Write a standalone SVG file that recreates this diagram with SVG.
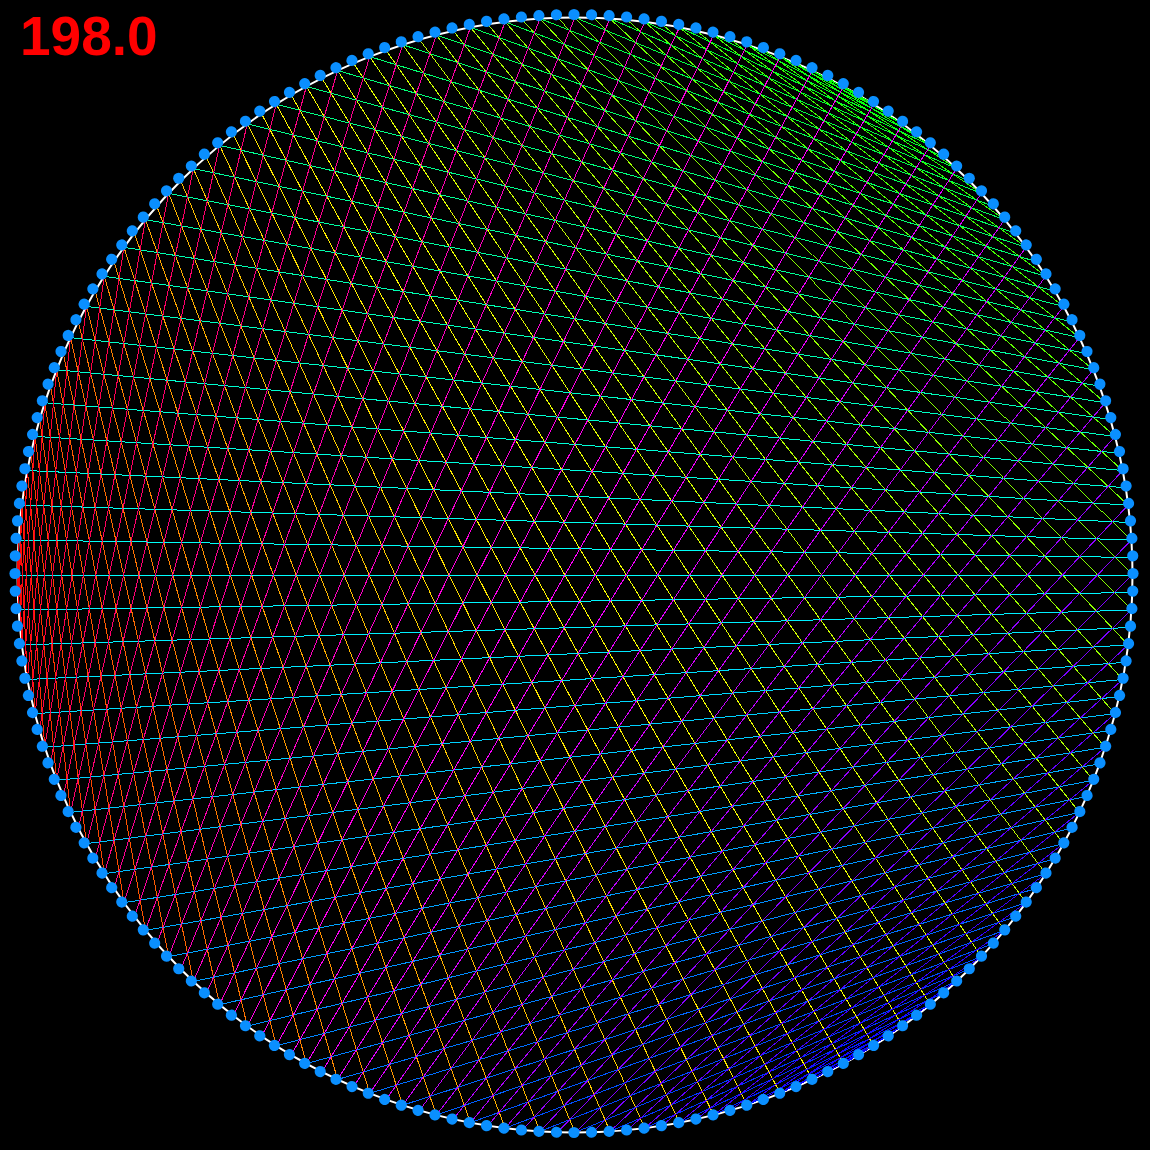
<svg xmlns="http://www.w3.org/2000/svg" width="1150" height="1150" viewBox="0 0 1150 1150">
<style>
.bg{fill:#000}
.ring{fill:none;stroke:#fff;stroke-width:2}
#lines line{stroke-width:1;shape-rendering:crispEdges}
.dot{fill:#0a8fff}
.lbl{font-family:"Liberation Sans",Arial,sans-serif;font-weight:bold;font-size:55px;fill:#f00}
</style>
<defs><circle id="dot" class="dot" cx="559" cy="0" r="5.6"/></defs>
<rect class="bg" width="1150" height="1150"/>
<circle class="ring" cx="575" cy="575" r="557.5"/>
<g id="lines" transform="translate(575 575)">
<line x2="52.5" transform="rotate(181.8)translate(557.5)rotate(267.3)" stroke="hsl(1.8,100%,50%)"/>
<line x2="104.9" transform="rotate(183.6)translate(557.5)rotate(264.6)" stroke="hsl(3.6,100%,50%)"/>
<line x2="157.1" transform="rotate(185.4)translate(557.5)rotate(261.9)" stroke="hsl(5.4,100%,50%)"/>
<line x2="208.9" transform="rotate(187.2)translate(557.5)rotate(259.2)" stroke="hsl(7.2,100%,50%)"/>
<line x2="260.3" transform="rotate(189)translate(557.5)rotate(256.5)" stroke="hsl(9,100%,50%)"/>
<line x2="311.1" transform="rotate(190.8)translate(557.5)rotate(253.8)" stroke="hsl(10.8,100%,50%)"/>
<line x2="361.2" transform="rotate(192.6)translate(557.5)rotate(251.1)" stroke="hsl(12.6,100%,50%)"/>
<line x2="410.5" transform="rotate(194.4)translate(557.5)rotate(248.4)" stroke="hsl(14.4,100%,50%)"/>
<line x2="458.8" transform="rotate(196.2)translate(557.5)rotate(245.7)" stroke="hsl(16.2,100%,50%)"/>
<line x2="506.2" transform="rotate(198)translate(557.5)rotate(243)" stroke="hsl(18,100%,50%)"/>
<line x2="552.4" transform="rotate(199.8)translate(557.5)rotate(240.3)" stroke="hsl(19.8,100%,50%)"/>
<line x2="597.5" transform="rotate(201.6)translate(557.5)rotate(237.6)" stroke="hsl(21.6,100%,50%)"/>
<line x2="641.1" transform="rotate(203.4)translate(557.5)rotate(234.9)" stroke="hsl(23.4,100%,50%)"/>
<line x2="683.4" transform="rotate(205.2)translate(557.5)rotate(232.2)" stroke="hsl(25.2,100%,50%)"/>
<line x2="724.1" transform="rotate(207)translate(557.5)rotate(229.5)" stroke="hsl(27,100%,50%)"/>
<line x2="763.3" transform="rotate(208.8)translate(557.5)rotate(226.8)" stroke="hsl(28.8,100%,50%)"/>
<line x2="800.7" transform="rotate(210.6)translate(557.5)rotate(224.1)" stroke="hsl(30.6,100%,50%)"/>
<line x2="836.4" transform="rotate(212.4)translate(557.5)rotate(221.4)" stroke="hsl(32.4,100%,50%)"/>
<line x2="870.2" transform="rotate(214.2)translate(557.5)rotate(218.7)" stroke="hsl(34.2,100%,50%)"/>
<line x2="902.1" transform="rotate(216)translate(557.5)rotate(216)" stroke="hsl(36,100%,50%)"/>
<line x2="931.9" transform="rotate(217.8)translate(557.5)rotate(213.3)" stroke="hsl(37.8,100%,50%)"/>
<line x2="959.7" transform="rotate(219.6)translate(557.5)rotate(210.6)" stroke="hsl(39.6,100%,50%)"/>
<line x2="985.4" transform="rotate(221.4)translate(557.5)rotate(207.9)" stroke="hsl(41.4,100%,50%)"/>
<line x2="1008.9" transform="rotate(223.2)translate(557.5)rotate(205.2)" stroke="hsl(43.2,100%,50%)"/>
<line x2="1030.1" transform="rotate(225)translate(557.5)rotate(202.5)" stroke="hsl(45,100%,50%)"/>
<line x2="1049.1" transform="rotate(226.8)translate(557.5)rotate(199.8)" stroke="hsl(46.8,100%,50%)"/>
<line x2="1065.7" transform="rotate(228.6)translate(557.5)rotate(197.1)" stroke="hsl(48.6,100%,50%)"/>
<line x2="1080" transform="rotate(230.4)translate(557.5)rotate(194.4)" stroke="hsl(50.4,100%,50%)"/>
<line x2="1091.8" transform="rotate(232.2)translate(557.5)rotate(191.7)" stroke="hsl(52.2,100%,50%)"/>
<line x2="1101.3" transform="rotate(234)translate(557.5)rotate(189)" stroke="hsl(54,100%,50%)"/>
<line x2="1108.3" transform="rotate(235.8)translate(557.5)rotate(186.3)" stroke="hsl(55.8,100%,50%)"/>
<line x2="1112.8" transform="rotate(237.6)translate(557.5)rotate(183.6)" stroke="hsl(57.6,100%,50%)"/>
<line x2="1114.9" transform="rotate(239.4)translate(557.5)rotate(180.9)" stroke="hsl(59.4,100%,50%)"/>
<line x2="1114.5" transform="rotate(241.2)translate(557.5)rotate(178.2)" stroke="hsl(61.2,100%,50%)"/>
<line x2="1111.6" transform="rotate(243)translate(557.5)rotate(175.5)" stroke="hsl(63,100%,50%)"/>
<line x2="1106.2" transform="rotate(244.8)translate(557.5)rotate(172.8)" stroke="hsl(64.8,100%,50%)"/>
<line x2="1098.4" transform="rotate(246.6)translate(557.5)rotate(170.1)" stroke="hsl(66.6,100%,50%)"/>
<line x2="1088.2" transform="rotate(248.4)translate(557.5)rotate(167.4)" stroke="hsl(68.4,100%,50%)"/>
<line x2="1075.5" transform="rotate(250.2)translate(557.5)rotate(164.7)" stroke="hsl(70.2,100%,50%)"/>
<line x2="1060.4" transform="rotate(252)translate(557.5)rotate(162)" stroke="hsl(72,100%,50%)"/>
<line x2="1043" transform="rotate(253.8)translate(557.5)rotate(159.3)" stroke="hsl(73.8,100%,50%)"/>
<line x2="1023.3" transform="rotate(255.6)translate(557.5)rotate(156.6)" stroke="hsl(75.6,100%,50%)"/>
<line x2="1001.3" transform="rotate(257.4)translate(557.5)rotate(153.9)" stroke="hsl(77.4,100%,50%)"/>
<line x2="977.1" transform="rotate(259.2)translate(557.5)rotate(151.2)" stroke="hsl(79.2,100%,50%)"/>
<line x2="950.7" transform="rotate(261)translate(557.5)rotate(148.5)" stroke="hsl(81,100%,50%)"/>
<line x2="922.2" transform="rotate(262.8)translate(557.5)rotate(145.8)" stroke="hsl(82.8,100%,50%)"/>
<line x2="891.6" transform="rotate(264.6)translate(557.5)rotate(143.1)" stroke="hsl(84.6,100%,50%)"/>
<line x2="859.1" transform="rotate(266.4)translate(557.5)rotate(140.4)" stroke="hsl(86.4,100%,50%)"/>
<line x2="824.7" transform="rotate(268.2)translate(557.5)rotate(137.7)" stroke="hsl(88.2,100%,50%)"/>
<line x2="788.4" transform="rotate(270)translate(557.5)rotate(135)" stroke="hsl(90,100%,50%)"/>
<line x2="750.4" transform="rotate(271.8)translate(557.5)rotate(132.3)" stroke="hsl(91.8,100%,50%)"/>
<line x2="710.7" transform="rotate(273.6)translate(557.5)rotate(129.6)" stroke="hsl(93.6,100%,50%)"/>
<line x2="669.5" transform="rotate(275.4)translate(557.5)rotate(126.9)" stroke="hsl(95.4,100%,50%)"/>
<line x2="626.7" transform="rotate(277.2)translate(557.5)rotate(124.2)" stroke="hsl(97.2,100%,50%)"/>
<line x2="582.6" transform="rotate(279)translate(557.5)rotate(121.5)" stroke="hsl(99,100%,50%)"/>
<line x2="537.2" transform="rotate(280.8)translate(557.5)rotate(118.8)" stroke="hsl(100.8,100%,50%)"/>
<line x2="490.5" transform="rotate(282.6)translate(557.5)rotate(116.1)" stroke="hsl(102.6,100%,50%)"/>
<line x2="442.8" transform="rotate(284.4)translate(557.5)rotate(113.4)" stroke="hsl(104.4,100%,50%)"/>
<line x2="394.1" transform="rotate(286.2)translate(557.5)rotate(110.7)" stroke="hsl(106.2,100%,50%)"/>
<line x2="344.6" transform="rotate(288)translate(557.5)rotate(108)" stroke="hsl(108,100%,50%)"/>
<line x2="294.2" transform="rotate(289.8)translate(557.5)rotate(105.3)" stroke="hsl(109.8,100%,50%)"/>
<line x2="243.2" transform="rotate(291.6)translate(557.5)rotate(102.6)" stroke="hsl(111.6,100%,50%)"/>
<line x2="191.7" transform="rotate(293.4)translate(557.5)rotate(99.9)" stroke="hsl(113.4,100%,50%)"/>
<line x2="139.8" transform="rotate(295.2)translate(557.5)rotate(97.2)" stroke="hsl(115.2,100%,50%)"/>
<line x2="87.5" transform="rotate(297)translate(557.5)rotate(94.5)" stroke="hsl(117,100%,50%)"/>
<line x2="35" transform="rotate(298.8)translate(557.5)rotate(91.8)" stroke="hsl(118.8,100%,50%)"/>
<line x2="17.5" transform="rotate(300.6)translate(557.5)rotate(269.1)" stroke="hsl(120.6,100%,50%)"/>
<line x2="70" transform="rotate(302.4)translate(557.5)rotate(266.4)" stroke="hsl(122.4,100%,50%)"/>
<line x2="122.4" transform="rotate(304.2)translate(557.5)rotate(263.7)" stroke="hsl(124.2,100%,50%)"/>
<line x2="174.4" transform="rotate(306)translate(557.5)rotate(261)" stroke="hsl(126,100%,50%)"/>
<line x2="226.1" transform="rotate(307.8)translate(557.5)rotate(258.3)" stroke="hsl(127.8,100%,50%)"/>
<line x2="277.3" transform="rotate(309.6)translate(557.5)rotate(255.6)" stroke="hsl(129.6,100%,50%)"/>
<line x2="327.9" transform="rotate(311.4)translate(557.5)rotate(252.9)" stroke="hsl(131.4,100%,50%)"/>
<line x2="377.7" transform="rotate(313.2)translate(557.5)rotate(250.2)" stroke="hsl(133.2,100%,50%)"/>
<line x2="426.7" transform="rotate(315)translate(557.5)rotate(247.5)" stroke="hsl(135,100%,50%)"/>
<line x2="474.7" transform="rotate(316.8)translate(557.5)rotate(244.8)" stroke="hsl(136.8,100%,50%)"/>
<line x2="521.7" transform="rotate(318.6)translate(557.5)rotate(242.1)" stroke="hsl(138.6,100%,50%)"/>
<line x2="567.6" transform="rotate(320.4)translate(557.5)rotate(239.4)" stroke="hsl(140.4,100%,50%)"/>
<line x2="612.2" transform="rotate(322.2)translate(557.5)rotate(236.7)" stroke="hsl(142.2,100%,50%)"/>
<line x2="655.4" transform="rotate(324)translate(557.5)rotate(234)" stroke="hsl(144,100%,50%)"/>
<line x2="697.1" transform="rotate(325.8)translate(557.5)rotate(231.3)" stroke="hsl(145.8,100%,50%)"/>
<line x2="737.4" transform="rotate(327.6)translate(557.5)rotate(228.6)" stroke="hsl(147.6,100%,50%)"/>
<line x2="775.9" transform="rotate(329.4)translate(557.5)rotate(225.9)" stroke="hsl(149.4,100%,50%)"/>
<line x2="812.8" transform="rotate(331.2)translate(557.5)rotate(223.2)" stroke="hsl(151.2,100%,50%)"/>
<line x2="847.9" transform="rotate(333)translate(557.5)rotate(220.5)" stroke="hsl(153,100%,50%)"/>
<line x2="881" transform="rotate(334.8)translate(557.5)rotate(217.8)" stroke="hsl(154.8,100%,50%)"/>
<line x2="912.2" transform="rotate(336.6)translate(557.5)rotate(215.1)" stroke="hsl(156.6,100%,50%)"/>
<line x2="941.4" transform="rotate(338.4)translate(557.5)rotate(212.4)" stroke="hsl(158.4,100%,50%)"/>
<line x2="968.5" transform="rotate(340.2)translate(557.5)rotate(209.7)" stroke="hsl(160.2,100%,50%)"/>
<line x2="993.5" transform="rotate(342)translate(557.5)rotate(207)" stroke="hsl(162,100%,50%)"/>
<line x2="1016.2" transform="rotate(343.8)translate(557.5)rotate(204.3)" stroke="hsl(163.8,100%,50%)"/>
<line x2="1036.7" transform="rotate(345.6)translate(557.5)rotate(201.6)" stroke="hsl(165.6,100%,50%)"/>
<line x2="1054.9" transform="rotate(347.4)translate(557.5)rotate(198.9)" stroke="hsl(167.4,100%,50%)"/>
<line x2="1070.7" transform="rotate(349.2)translate(557.5)rotate(196.2)" stroke="hsl(169.2,100%,50%)"/>
<line x2="1084.2" transform="rotate(351)translate(557.5)rotate(193.5)" stroke="hsl(171,100%,50%)"/>
<line x2="1095.3" transform="rotate(352.8)translate(557.5)rotate(190.8)" stroke="hsl(172.8,100%,50%)"/>
<line x2="1103.9" transform="rotate(354.6)translate(557.5)rotate(188.1)" stroke="hsl(174.6,100%,50%)"/>
<line x2="1110.1" transform="rotate(356.4)translate(557.5)rotate(185.4)" stroke="hsl(176.4,100%,50%)"/>
<line x2="1113.8" transform="rotate(358.2)translate(557.5)rotate(182.7)" stroke="hsl(178.2,100%,50%)"/>
<line x2="1115" transform="rotate(0)translate(557.5)rotate(180)" stroke="hsl(180,100%,50%)"/>
<line x2="1113.8" transform="rotate(1.8)translate(557.5)rotate(177.3)" stroke="hsl(181.8,100%,50%)"/>
<line x2="1110.1" transform="rotate(3.6)translate(557.5)rotate(174.6)" stroke="hsl(183.6,100%,50%)"/>
<line x2="1103.9" transform="rotate(5.4)translate(557.5)rotate(171.9)" stroke="hsl(185.4,100%,50%)"/>
<line x2="1095.3" transform="rotate(7.2)translate(557.5)rotate(169.2)" stroke="hsl(187.2,100%,50%)"/>
<line x2="1084.2" transform="rotate(9)translate(557.5)rotate(166.5)" stroke="hsl(189,100%,50%)"/>
<line x2="1070.7" transform="rotate(10.8)translate(557.5)rotate(163.8)" stroke="hsl(190.8,100%,50%)"/>
<line x2="1054.9" transform="rotate(12.6)translate(557.5)rotate(161.1)" stroke="hsl(192.6,100%,50%)"/>
<line x2="1036.7" transform="rotate(14.4)translate(557.5)rotate(158.4)" stroke="hsl(194.4,100%,50%)"/>
<line x2="1016.2" transform="rotate(16.2)translate(557.5)rotate(155.7)" stroke="hsl(196.2,100%,50%)"/>
<line x2="993.5" transform="rotate(18)translate(557.5)rotate(153)" stroke="hsl(198,100%,50%)"/>
<line x2="968.5" transform="rotate(19.8)translate(557.5)rotate(150.3)" stroke="hsl(199.8,100%,50%)"/>
<line x2="941.4" transform="rotate(21.6)translate(557.5)rotate(147.6)" stroke="hsl(201.6,100%,50%)"/>
<line x2="912.2" transform="rotate(23.4)translate(557.5)rotate(144.9)" stroke="hsl(203.4,100%,50%)"/>
<line x2="881" transform="rotate(25.2)translate(557.5)rotate(142.2)" stroke="hsl(205.2,100%,50%)"/>
<line x2="847.9" transform="rotate(27)translate(557.5)rotate(139.5)" stroke="hsl(207,100%,50%)"/>
<line x2="812.8" transform="rotate(28.8)translate(557.5)rotate(136.8)" stroke="hsl(208.8,100%,50%)"/>
<line x2="775.9" transform="rotate(30.6)translate(557.5)rotate(134.1)" stroke="hsl(210.6,100%,50%)"/>
<line x2="737.4" transform="rotate(32.4)translate(557.5)rotate(131.4)" stroke="hsl(212.4,100%,50%)"/>
<line x2="697.1" transform="rotate(34.2)translate(557.5)rotate(128.7)" stroke="hsl(214.2,100%,50%)"/>
<line x2="655.4" transform="rotate(36)translate(557.5)rotate(126)" stroke="hsl(216,100%,50%)"/>
<line x2="612.2" transform="rotate(37.8)translate(557.5)rotate(123.3)" stroke="hsl(217.8,100%,50%)"/>
<line x2="567.6" transform="rotate(39.6)translate(557.5)rotate(120.6)" stroke="hsl(219.6,100%,50%)"/>
<line x2="521.7" transform="rotate(41.4)translate(557.5)rotate(117.9)" stroke="hsl(221.4,100%,50%)"/>
<line x2="474.7" transform="rotate(43.2)translate(557.5)rotate(115.2)" stroke="hsl(223.2,100%,50%)"/>
<line x2="426.7" transform="rotate(45)translate(557.5)rotate(112.5)" stroke="hsl(225,100%,50%)"/>
<line x2="377.7" transform="rotate(46.8)translate(557.5)rotate(109.8)" stroke="hsl(226.8,100%,50%)"/>
<line x2="327.9" transform="rotate(48.6)translate(557.5)rotate(107.1)" stroke="hsl(228.6,100%,50%)"/>
<line x2="277.3" transform="rotate(50.4)translate(557.5)rotate(104.4)" stroke="hsl(230.4,100%,50%)"/>
<line x2="226.1" transform="rotate(52.2)translate(557.5)rotate(101.7)" stroke="hsl(232.2,100%,50%)"/>
<line x2="174.4" transform="rotate(54)translate(557.5)rotate(99)" stroke="hsl(234,100%,50%)"/>
<line x2="122.4" transform="rotate(55.8)translate(557.5)rotate(96.3)" stroke="hsl(235.8,100%,50%)"/>
<line x2="70" transform="rotate(57.6)translate(557.5)rotate(93.6)" stroke="hsl(237.6,100%,50%)"/>
<line x2="17.5" transform="rotate(59.4)translate(557.5)rotate(90.9)" stroke="hsl(239.4,100%,50%)"/>
<line x2="35" transform="rotate(61.2)translate(557.5)rotate(268.2)" stroke="hsl(241.2,100%,50%)"/>
<line x2="87.5" transform="rotate(63)translate(557.5)rotate(265.5)" stroke="hsl(243,100%,50%)"/>
<line x2="139.8" transform="rotate(64.8)translate(557.5)rotate(262.8)" stroke="hsl(244.8,100%,50%)"/>
<line x2="191.7" transform="rotate(66.6)translate(557.5)rotate(260.1)" stroke="hsl(246.6,100%,50%)"/>
<line x2="243.2" transform="rotate(68.4)translate(557.5)rotate(257.4)" stroke="hsl(248.4,100%,50%)"/>
<line x2="294.2" transform="rotate(70.2)translate(557.5)rotate(254.7)" stroke="hsl(250.2,100%,50%)"/>
<line x2="344.6" transform="rotate(72)translate(557.5)rotate(252)" stroke="hsl(252,100%,50%)"/>
<line x2="394.1" transform="rotate(73.8)translate(557.5)rotate(249.3)" stroke="hsl(253.8,100%,50%)"/>
<line x2="442.8" transform="rotate(75.6)translate(557.5)rotate(246.6)" stroke="hsl(255.6,100%,50%)"/>
<line x2="490.5" transform="rotate(77.4)translate(557.5)rotate(243.9)" stroke="hsl(257.4,100%,50%)"/>
<line x2="537.2" transform="rotate(79.2)translate(557.5)rotate(241.2)" stroke="hsl(259.2,100%,50%)"/>
<line x2="582.6" transform="rotate(81)translate(557.5)rotate(238.5)" stroke="hsl(261,100%,50%)"/>
<line x2="626.7" transform="rotate(82.8)translate(557.5)rotate(235.8)" stroke="hsl(262.8,100%,50%)"/>
<line x2="669.5" transform="rotate(84.6)translate(557.5)rotate(233.1)" stroke="hsl(264.6,100%,50%)"/>
<line x2="710.7" transform="rotate(86.4)translate(557.5)rotate(230.4)" stroke="hsl(266.4,100%,50%)"/>
<line x2="750.4" transform="rotate(88.2)translate(557.5)rotate(227.7)" stroke="hsl(268.2,100%,50%)"/>
<line x2="788.4" transform="rotate(90)translate(557.5)rotate(225)" stroke="hsl(270,100%,50%)"/>
<line x2="824.7" transform="rotate(91.8)translate(557.5)rotate(222.3)" stroke="hsl(271.8,100%,50%)"/>
<line x2="859.1" transform="rotate(93.6)translate(557.5)rotate(219.6)" stroke="hsl(273.6,100%,50%)"/>
<line x2="891.6" transform="rotate(95.4)translate(557.5)rotate(216.9)" stroke="hsl(275.4,100%,50%)"/>
<line x2="922.2" transform="rotate(97.2)translate(557.5)rotate(214.2)" stroke="hsl(277.2,100%,50%)"/>
<line x2="950.7" transform="rotate(99)translate(557.5)rotate(211.5)" stroke="hsl(279,100%,50%)"/>
<line x2="977.1" transform="rotate(100.8)translate(557.5)rotate(208.8)" stroke="hsl(280.8,100%,50%)"/>
<line x2="1001.3" transform="rotate(102.6)translate(557.5)rotate(206.1)" stroke="hsl(282.6,100%,50%)"/>
<line x2="1023.3" transform="rotate(104.4)translate(557.5)rotate(203.4)" stroke="hsl(284.4,100%,50%)"/>
<line x2="1043" transform="rotate(106.2)translate(557.5)rotate(200.7)" stroke="hsl(286.2,100%,50%)"/>
<line x2="1060.4" transform="rotate(108)translate(557.5)rotate(198)" stroke="hsl(288,100%,50%)"/>
<line x2="1075.5" transform="rotate(109.8)translate(557.5)rotate(195.3)" stroke="hsl(289.8,100%,50%)"/>
<line x2="1088.2" transform="rotate(111.6)translate(557.5)rotate(192.6)" stroke="hsl(291.6,100%,50%)"/>
<line x2="1098.4" transform="rotate(113.4)translate(557.5)rotate(189.9)" stroke="hsl(293.4,100%,50%)"/>
<line x2="1106.2" transform="rotate(115.2)translate(557.5)rotate(187.2)" stroke="hsl(295.2,100%,50%)"/>
<line x2="1111.6" transform="rotate(117)translate(557.5)rotate(184.5)" stroke="hsl(297,100%,50%)"/>
<line x2="1114.5" transform="rotate(118.8)translate(557.5)rotate(181.8)" stroke="hsl(298.8,100%,50%)"/>
<line x2="1114.9" transform="rotate(120.6)translate(557.5)rotate(179.1)" stroke="hsl(300.6,100%,50%)"/>
<line x2="1112.8" transform="rotate(122.4)translate(557.5)rotate(176.4)" stroke="hsl(302.4,100%,50%)"/>
<line x2="1108.3" transform="rotate(124.2)translate(557.5)rotate(173.7)" stroke="hsl(304.2,100%,50%)"/>
<line x2="1101.3" transform="rotate(126)translate(557.5)rotate(171)" stroke="hsl(306,100%,50%)"/>
<line x2="1091.8" transform="rotate(127.8)translate(557.5)rotate(168.3)" stroke="hsl(307.8,100%,50%)"/>
<line x2="1080" transform="rotate(129.6)translate(557.5)rotate(165.6)" stroke="hsl(309.6,100%,50%)"/>
<line x2="1065.7" transform="rotate(131.4)translate(557.5)rotate(162.9)" stroke="hsl(311.4,100%,50%)"/>
<line x2="1049.1" transform="rotate(133.2)translate(557.5)rotate(160.2)" stroke="hsl(313.2,100%,50%)"/>
<line x2="1030.1" transform="rotate(135)translate(557.5)rotate(157.5)" stroke="hsl(315,100%,50%)"/>
<line x2="1008.9" transform="rotate(136.8)translate(557.5)rotate(154.8)" stroke="hsl(316.8,100%,50%)"/>
<line x2="985.4" transform="rotate(138.6)translate(557.5)rotate(152.1)" stroke="hsl(318.6,100%,50%)"/>
<line x2="959.7" transform="rotate(140.4)translate(557.5)rotate(149.4)" stroke="hsl(320.4,100%,50%)"/>
<line x2="931.9" transform="rotate(142.2)translate(557.5)rotate(146.7)" stroke="hsl(322.2,100%,50%)"/>
<line x2="902.1" transform="rotate(144)translate(557.5)rotate(144)" stroke="hsl(324,100%,50%)"/>
<line x2="870.2" transform="rotate(145.8)translate(557.5)rotate(141.3)" stroke="hsl(325.8,100%,50%)"/>
<line x2="836.4" transform="rotate(147.6)translate(557.5)rotate(138.6)" stroke="hsl(327.6,100%,50%)"/>
<line x2="800.7" transform="rotate(149.4)translate(557.5)rotate(135.9)" stroke="hsl(329.4,100%,50%)"/>
<line x2="763.3" transform="rotate(151.2)translate(557.5)rotate(133.2)" stroke="hsl(331.2,100%,50%)"/>
<line x2="724.1" transform="rotate(153)translate(557.5)rotate(130.5)" stroke="hsl(333,100%,50%)"/>
<line x2="683.4" transform="rotate(154.8)translate(557.5)rotate(127.8)" stroke="hsl(334.8,100%,50%)"/>
<line x2="641.1" transform="rotate(156.6)translate(557.5)rotate(125.1)" stroke="hsl(336.6,100%,50%)"/>
<line x2="597.5" transform="rotate(158.4)translate(557.5)rotate(122.4)" stroke="hsl(338.4,100%,50%)"/>
<line x2="552.4" transform="rotate(160.2)translate(557.5)rotate(119.7)" stroke="hsl(340.2,100%,50%)"/>
<line x2="506.2" transform="rotate(162)translate(557.5)rotate(117)" stroke="hsl(342,100%,50%)"/>
<line x2="458.8" transform="rotate(163.8)translate(557.5)rotate(114.3)" stroke="hsl(343.8,100%,50%)"/>
<line x2="410.5" transform="rotate(165.6)translate(557.5)rotate(111.6)" stroke="hsl(345.6,100%,50%)"/>
<line x2="361.2" transform="rotate(167.4)translate(557.5)rotate(108.9)" stroke="hsl(347.4,100%,50%)"/>
<line x2="311.1" transform="rotate(169.2)translate(557.5)rotate(106.2)" stroke="hsl(349.2,100%,50%)"/>
<line x2="260.3" transform="rotate(171)translate(557.5)rotate(103.5)" stroke="hsl(351,100%,50%)"/>
<line x2="208.9" transform="rotate(172.8)translate(557.5)rotate(100.8)" stroke="hsl(352.8,100%,50%)"/>
<line x2="157.1" transform="rotate(174.6)translate(557.5)rotate(98.1)" stroke="hsl(354.6,100%,50%)"/>
<line x2="104.9" transform="rotate(176.4)translate(557.5)rotate(95.4)" stroke="hsl(356.4,100%,50%)"/>
<line x2="52.5" transform="rotate(178.2)translate(557.5)rotate(92.7)" stroke="hsl(358.2,100%,50%)"/>
</g>
<g id="nodes" transform="translate(574 573.5)">
<g id="n0"><use href="#dot" transform="rotate(180)"/></g>
<g id="n1"><use href="#dot" transform="rotate(181.8)"/></g>
<g id="n2"><use href="#dot" transform="rotate(183.6)"/></g>
<g id="n3"><use href="#dot" transform="rotate(185.4)"/></g>
<g id="n4"><use href="#dot" transform="rotate(187.2)"/></g>
<g id="n5"><use href="#dot" transform="rotate(189)"/></g>
<g id="n6"><use href="#dot" transform="rotate(190.8)"/></g>
<g id="n7"><use href="#dot" transform="rotate(192.6)"/></g>
<g id="n8"><use href="#dot" transform="rotate(194.4)"/></g>
<g id="n9"><use href="#dot" transform="rotate(196.2)"/></g>
<g id="n10"><use href="#dot" transform="rotate(198)"/></g>
<g id="n11"><use href="#dot" transform="rotate(199.8)"/></g>
<g id="n12"><use href="#dot" transform="rotate(201.6)"/></g>
<g id="n13"><use href="#dot" transform="rotate(203.4)"/></g>
<g id="n14"><use href="#dot" transform="rotate(205.2)"/></g>
<g id="n15"><use href="#dot" transform="rotate(207)"/></g>
<g id="n16"><use href="#dot" transform="rotate(208.8)"/></g>
<g id="n17"><use href="#dot" transform="rotate(210.6)"/></g>
<g id="n18"><use href="#dot" transform="rotate(212.4)"/></g>
<g id="n19"><use href="#dot" transform="rotate(214.2)"/></g>
<g id="n20"><use href="#dot" transform="rotate(216)"/></g>
<g id="n21"><use href="#dot" transform="rotate(217.8)"/></g>
<g id="n22"><use href="#dot" transform="rotate(219.6)"/></g>
<g id="n23"><use href="#dot" transform="rotate(221.4)"/></g>
<g id="n24"><use href="#dot" transform="rotate(223.2)"/></g>
<g id="n25"><use href="#dot" transform="rotate(225)"/></g>
<g id="n26"><use href="#dot" transform="rotate(226.8)"/></g>
<g id="n27"><use href="#dot" transform="rotate(228.6)"/></g>
<g id="n28"><use href="#dot" transform="rotate(230.4)"/></g>
<g id="n29"><use href="#dot" transform="rotate(232.2)"/></g>
<g id="n30"><use href="#dot" transform="rotate(234)"/></g>
<g id="n31"><use href="#dot" transform="rotate(235.8)"/></g>
<g id="n32"><use href="#dot" transform="rotate(237.6)"/></g>
<g id="n33"><use href="#dot" transform="rotate(239.4)"/></g>
<g id="n34"><use href="#dot" transform="rotate(241.2)"/></g>
<g id="n35"><use href="#dot" transform="rotate(243)"/></g>
<g id="n36"><use href="#dot" transform="rotate(244.8)"/></g>
<g id="n37"><use href="#dot" transform="rotate(246.6)"/></g>
<g id="n38"><use href="#dot" transform="rotate(248.4)"/></g>
<g id="n39"><use href="#dot" transform="rotate(250.2)"/></g>
<g id="n40"><use href="#dot" transform="rotate(252)"/></g>
<g id="n41"><use href="#dot" transform="rotate(253.8)"/></g>
<g id="n42"><use href="#dot" transform="rotate(255.6)"/></g>
<g id="n43"><use href="#dot" transform="rotate(257.4)"/></g>
<g id="n44"><use href="#dot" transform="rotate(259.2)"/></g>
<g id="n45"><use href="#dot" transform="rotate(261)"/></g>
<g id="n46"><use href="#dot" transform="rotate(262.8)"/></g>
<g id="n47"><use href="#dot" transform="rotate(264.6)"/></g>
<g id="n48"><use href="#dot" transform="rotate(266.4)"/></g>
<g id="n49"><use href="#dot" transform="rotate(268.2)"/></g>
<g id="n50"><use href="#dot" transform="rotate(270)"/></g>
<g id="n51"><use href="#dot" transform="rotate(271.8)"/></g>
<g id="n52"><use href="#dot" transform="rotate(273.6)"/></g>
<g id="n53"><use href="#dot" transform="rotate(275.4)"/></g>
<g id="n54"><use href="#dot" transform="rotate(277.2)"/></g>
<g id="n55"><use href="#dot" transform="rotate(279)"/></g>
<g id="n56"><use href="#dot" transform="rotate(280.8)"/></g>
<g id="n57"><use href="#dot" transform="rotate(282.6)"/></g>
<g id="n58"><use href="#dot" transform="rotate(284.4)"/></g>
<g id="n59"><use href="#dot" transform="rotate(286.2)"/></g>
<g id="n60"><use href="#dot" transform="rotate(288)"/></g>
<g id="n61"><use href="#dot" transform="rotate(289.8)"/></g>
<g id="n62"><use href="#dot" transform="rotate(291.6)"/></g>
<g id="n63"><use href="#dot" transform="rotate(293.4)"/></g>
<g id="n64"><use href="#dot" transform="rotate(295.2)"/></g>
<g id="n65"><use href="#dot" transform="rotate(297)"/></g>
<g id="n66"><use href="#dot" transform="rotate(298.8)"/></g>
<g id="n67"><use href="#dot" transform="rotate(300.6)"/></g>
<g id="n68"><use href="#dot" transform="rotate(302.4)"/></g>
<g id="n69"><use href="#dot" transform="rotate(304.2)"/></g>
<g id="n70"><use href="#dot" transform="rotate(306)"/></g>
<g id="n71"><use href="#dot" transform="rotate(307.8)"/></g>
<g id="n72"><use href="#dot" transform="rotate(309.6)"/></g>
<g id="n73"><use href="#dot" transform="rotate(311.4)"/></g>
<g id="n74"><use href="#dot" transform="rotate(313.2)"/></g>
<g id="n75"><use href="#dot" transform="rotate(315)"/></g>
<g id="n76"><use href="#dot" transform="rotate(316.8)"/></g>
<g id="n77"><use href="#dot" transform="rotate(318.6)"/></g>
<g id="n78"><use href="#dot" transform="rotate(320.4)"/></g>
<g id="n79"><use href="#dot" transform="rotate(322.2)"/></g>
<g id="n80"><use href="#dot" transform="rotate(324)"/></g>
<g id="n81"><use href="#dot" transform="rotate(325.8)"/></g>
<g id="n82"><use href="#dot" transform="rotate(327.6)"/></g>
<g id="n83"><use href="#dot" transform="rotate(329.4)"/></g>
<g id="n84"><use href="#dot" transform="rotate(331.2)"/></g>
<g id="n85"><use href="#dot" transform="rotate(333)"/></g>
<g id="n86"><use href="#dot" transform="rotate(334.8)"/></g>
<g id="n87"><use href="#dot" transform="rotate(336.6)"/></g>
<g id="n88"><use href="#dot" transform="rotate(338.4)"/></g>
<g id="n89"><use href="#dot" transform="rotate(340.2)"/></g>
<g id="n90"><use href="#dot" transform="rotate(342)"/></g>
<g id="n91"><use href="#dot" transform="rotate(343.8)"/></g>
<g id="n92"><use href="#dot" transform="rotate(345.6)"/></g>
<g id="n93"><use href="#dot" transform="rotate(347.4)"/></g>
<g id="n94"><use href="#dot" transform="rotate(349.2)"/></g>
<g id="n95"><use href="#dot" transform="rotate(351)"/></g>
<g id="n96"><use href="#dot" transform="rotate(352.8)"/></g>
<g id="n97"><use href="#dot" transform="rotate(354.6)"/></g>
<g id="n98"><use href="#dot" transform="rotate(356.4)"/></g>
<g id="n99"><use href="#dot" transform="rotate(358.2)"/></g>
<g id="n100"><use href="#dot" transform="rotate(0)"/></g>
<g id="n101"><use href="#dot" transform="rotate(1.8)"/></g>
<g id="n102"><use href="#dot" transform="rotate(3.6)"/></g>
<g id="n103"><use href="#dot" transform="rotate(5.4)"/></g>
<g id="n104"><use href="#dot" transform="rotate(7.2)"/></g>
<g id="n105"><use href="#dot" transform="rotate(9)"/></g>
<g id="n106"><use href="#dot" transform="rotate(10.8)"/></g>
<g id="n107"><use href="#dot" transform="rotate(12.6)"/></g>
<g id="n108"><use href="#dot" transform="rotate(14.4)"/></g>
<g id="n109"><use href="#dot" transform="rotate(16.2)"/></g>
<g id="n110"><use href="#dot" transform="rotate(18)"/></g>
<g id="n111"><use href="#dot" transform="rotate(19.8)"/></g>
<g id="n112"><use href="#dot" transform="rotate(21.6)"/></g>
<g id="n113"><use href="#dot" transform="rotate(23.4)"/></g>
<g id="n114"><use href="#dot" transform="rotate(25.2)"/></g>
<g id="n115"><use href="#dot" transform="rotate(27)"/></g>
<g id="n116"><use href="#dot" transform="rotate(28.8)"/></g>
<g id="n117"><use href="#dot" transform="rotate(30.6)"/></g>
<g id="n118"><use href="#dot" transform="rotate(32.4)"/></g>
<g id="n119"><use href="#dot" transform="rotate(34.2)"/></g>
<g id="n120"><use href="#dot" transform="rotate(36)"/></g>
<g id="n121"><use href="#dot" transform="rotate(37.8)"/></g>
<g id="n122"><use href="#dot" transform="rotate(39.6)"/></g>
<g id="n123"><use href="#dot" transform="rotate(41.4)"/></g>
<g id="n124"><use href="#dot" transform="rotate(43.2)"/></g>
<g id="n125"><use href="#dot" transform="rotate(45)"/></g>
<g id="n126"><use href="#dot" transform="rotate(46.8)"/></g>
<g id="n127"><use href="#dot" transform="rotate(48.6)"/></g>
<g id="n128"><use href="#dot" transform="rotate(50.4)"/></g>
<g id="n129"><use href="#dot" transform="rotate(52.2)"/></g>
<g id="n130"><use href="#dot" transform="rotate(54)"/></g>
<g id="n131"><use href="#dot" transform="rotate(55.8)"/></g>
<g id="n132"><use href="#dot" transform="rotate(57.6)"/></g>
<g id="n133"><use href="#dot" transform="rotate(59.4)"/></g>
<g id="n134"><use href="#dot" transform="rotate(61.2)"/></g>
<g id="n135"><use href="#dot" transform="rotate(63)"/></g>
<g id="n136"><use href="#dot" transform="rotate(64.8)"/></g>
<g id="n137"><use href="#dot" transform="rotate(66.6)"/></g>
<g id="n138"><use href="#dot" transform="rotate(68.4)"/></g>
<g id="n139"><use href="#dot" transform="rotate(70.2)"/></g>
<g id="n140"><use href="#dot" transform="rotate(72)"/></g>
<g id="n141"><use href="#dot" transform="rotate(73.8)"/></g>
<g id="n142"><use href="#dot" transform="rotate(75.6)"/></g>
<g id="n143"><use href="#dot" transform="rotate(77.4)"/></g>
<g id="n144"><use href="#dot" transform="rotate(79.2)"/></g>
<g id="n145"><use href="#dot" transform="rotate(81)"/></g>
<g id="n146"><use href="#dot" transform="rotate(82.8)"/></g>
<g id="n147"><use href="#dot" transform="rotate(84.6)"/></g>
<g id="n148"><use href="#dot" transform="rotate(86.4)"/></g>
<g id="n149"><use href="#dot" transform="rotate(88.2)"/></g>
<g id="n150"><use href="#dot" transform="rotate(90)"/></g>
<g id="n151"><use href="#dot" transform="rotate(91.8)"/></g>
<g id="n152"><use href="#dot" transform="rotate(93.6)"/></g>
<g id="n153"><use href="#dot" transform="rotate(95.4)"/></g>
<g id="n154"><use href="#dot" transform="rotate(97.2)"/></g>
<g id="n155"><use href="#dot" transform="rotate(99)"/></g>
<g id="n156"><use href="#dot" transform="rotate(100.8)"/></g>
<g id="n157"><use href="#dot" transform="rotate(102.6)"/></g>
<g id="n158"><use href="#dot" transform="rotate(104.4)"/></g>
<g id="n159"><use href="#dot" transform="rotate(106.2)"/></g>
<g id="n160"><use href="#dot" transform="rotate(108)"/></g>
<g id="n161"><use href="#dot" transform="rotate(109.8)"/></g>
<g id="n162"><use href="#dot" transform="rotate(111.6)"/></g>
<g id="n163"><use href="#dot" transform="rotate(113.4)"/></g>
<g id="n164"><use href="#dot" transform="rotate(115.2)"/></g>
<g id="n165"><use href="#dot" transform="rotate(117)"/></g>
<g id="n166"><use href="#dot" transform="rotate(118.8)"/></g>
<g id="n167"><use href="#dot" transform="rotate(120.6)"/></g>
<g id="n168"><use href="#dot" transform="rotate(122.4)"/></g>
<g id="n169"><use href="#dot" transform="rotate(124.2)"/></g>
<g id="n170"><use href="#dot" transform="rotate(126)"/></g>
<g id="n171"><use href="#dot" transform="rotate(127.8)"/></g>
<g id="n172"><use href="#dot" transform="rotate(129.6)"/></g>
<g id="n173"><use href="#dot" transform="rotate(131.4)"/></g>
<g id="n174"><use href="#dot" transform="rotate(133.2)"/></g>
<g id="n175"><use href="#dot" transform="rotate(135)"/></g>
<g id="n176"><use href="#dot" transform="rotate(136.8)"/></g>
<g id="n177"><use href="#dot" transform="rotate(138.6)"/></g>
<g id="n178"><use href="#dot" transform="rotate(140.4)"/></g>
<g id="n179"><use href="#dot" transform="rotate(142.2)"/></g>
<g id="n180"><use href="#dot" transform="rotate(144)"/></g>
<g id="n181"><use href="#dot" transform="rotate(145.8)"/></g>
<g id="n182"><use href="#dot" transform="rotate(147.6)"/></g>
<g id="n183"><use href="#dot" transform="rotate(149.4)"/></g>
<g id="n184"><use href="#dot" transform="rotate(151.2)"/></g>
<g id="n185"><use href="#dot" transform="rotate(153)"/></g>
<g id="n186"><use href="#dot" transform="rotate(154.8)"/></g>
<g id="n187"><use href="#dot" transform="rotate(156.6)"/></g>
<g id="n188"><use href="#dot" transform="rotate(158.4)"/></g>
<g id="n189"><use href="#dot" transform="rotate(160.2)"/></g>
<g id="n190"><use href="#dot" transform="rotate(162)"/></g>
<g id="n191"><use href="#dot" transform="rotate(163.8)"/></g>
<g id="n192"><use href="#dot" transform="rotate(165.6)"/></g>
<g id="n193"><use href="#dot" transform="rotate(167.4)"/></g>
<g id="n194"><use href="#dot" transform="rotate(169.2)"/></g>
<g id="n195"><use href="#dot" transform="rotate(171)"/></g>
<g id="n196"><use href="#dot" transform="rotate(172.8)"/></g>
<g id="n197"><use href="#dot" transform="rotate(174.6)"/></g>
<g id="n198"><use href="#dot" transform="rotate(176.4)"/></g>
<g id="n199"><use href="#dot" transform="rotate(178.2)"/></g>
</g>
<text class="lbl" x="20" y="55">198.0</text>
</svg>
